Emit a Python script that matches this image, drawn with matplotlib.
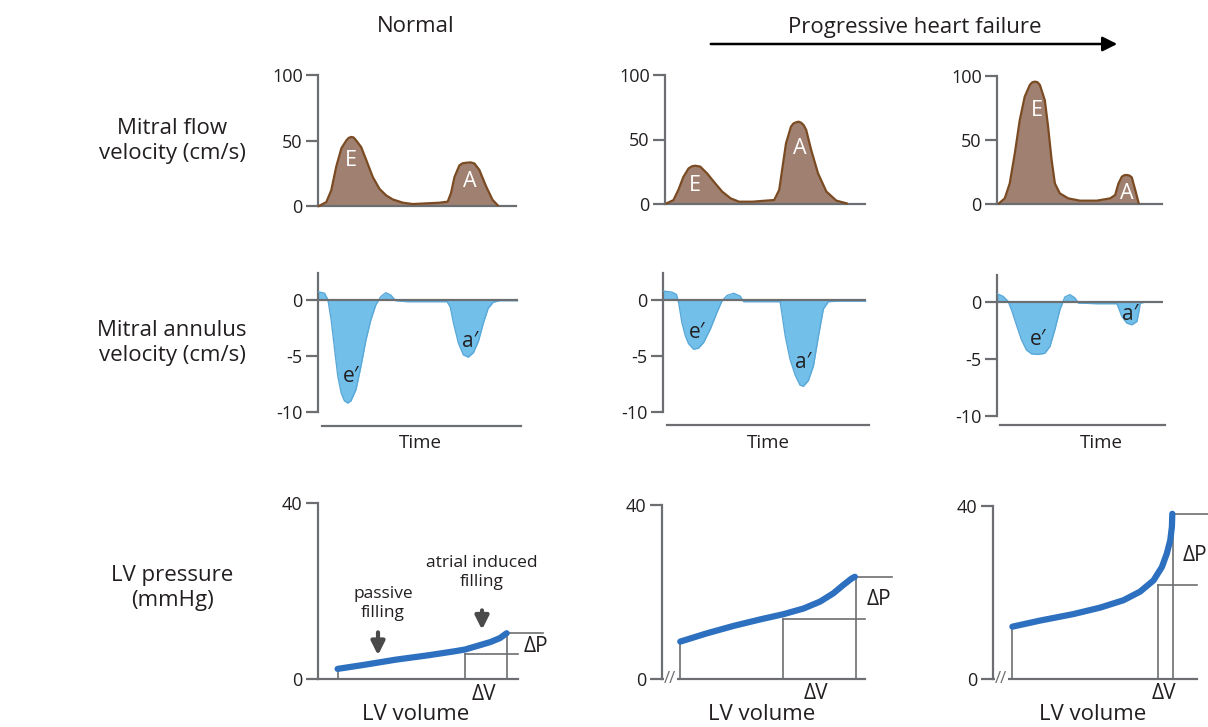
import matplotlib
matplotlib.use('Agg')
import matplotlib.pyplot as plt
from matplotlib.patches import FancyArrowPatch

plt.rcParams['font.family'] = ['Open Sans', 'DejaVu Sans']

# ---- data (time axis scaled 0..100) ----
# mitral flow velocity (cm/s)
flow_t_1 = [0.5, 4.2, 6.7, 9.2, 11.8, 14.3, 15.5, 16.8, 18.0, 19.3, 21.8, 24.4, 27.7, 31.1, 34.5, 37.8,
            42.9, 47.9, 54.6, 61.3, 65.5, 67.2, 68.9, 71.4, 73.0, 74.8, 77.0, 79.0, 81.5, 84.9, 88.2, 90.8]
flow_v_1 = [0, 3, 12, 30, 44, 50, 52, 52.7, 52.3, 50, 45, 35, 22, 13, 8, 5,
            2.5, 1.5, 2, 2.5, 3.3, 10, 22, 31, 32.6, 33, 33.3, 32.5, 27.5, 15, 4.6, 0.5]
flow_t_2 = [0.8, 4.2, 6.7, 9.2, 11.8, 13.4, 15.1, 17.6, 21.0, 24.4, 28.6, 32.8, 37.0, 43.7, 50.4,
            54.6, 57.1, 58.8, 60.5, 63.0, 64.2, 65.5, 66.8, 68.1, 69.4, 70.6, 73.1, 76.5, 80.7, 85.7, 90.8]
flow_v_2 = [0.5, 3, 11, 21, 27.6, 29.2, 29.7, 29, 23.8, 17.3, 9.6, 4.4, 1.8, 1.8, 2.6,
            3.1, 10.9, 29, 47, 60, 62.4, 63.3, 63.8, 63, 61, 57.4, 41.9, 23.8, 9.6, 2.6, 0.5]
flow_t_3 = [1.2, 4.7, 7.7, 10.8, 13.8, 16.8, 19.9, 21.3, 22.9, 24.5, 26.0, 29.0, 31.0, 33.1, 35.1, 38.1,
            43.2, 50.3, 60.4, 68.6, 71.6, 73.6, 75.7, 77.2, 78.7, 80.3, 81.7, 83.8, 85.8]
flow_v_3 = [0.5, 4.4, 16, 39.6, 65.6, 83.9, 93, 95, 95.6, 95.2, 93, 81, 60, 34.4, 16, 8.3,
            4.4, 2.6, 2.6, 4.4, 7, 16, 21.4, 22.5, 22.7, 22.2, 20.8, 10.9, 1]

# mitral annulus velocity (cm/s)
ann_t_1 = [0, 3.3, 5.0, 6.6, 8.3, 9.9, 11.6, 13.2, 14.9, 16.5, 19.0, 21.5, 24.0, 26.4, 28.9,
           31.4, 33.9, 36.4, 38.8, 44.6, 54.5, 64.5, 66.1, 67.8, 70.2, 72.7, 75.2, 77.7,
           80.2, 82.6, 85.1, 87.6, 90.9, 100]
ann_v_1 = [0.74, 0.6, 0, -1.8, -4.4, -6.8, -8.3, -9.0, -9.2, -9.0, -8.0, -5.9, -3.55, -1.8, -0.44,
           0.3, 0.65, 0.44, -0.06, -0.15, -0.15, -0.15, -0.6, -2.1, -3.85, -4.9, -5.1, -4.7,
           -3.7, -2.1, -0.74, -0.2, -0.06, -0.06]
ann_t_2 = [0, 4.4, 6.6, 7.7, 9.3, 11.0, 12.6, 15.1, 17.5, 20.0, 23.3, 26.6, 29.0, 31.5, 34.8,
           38.0, 39.7, 47.9, 57.7, 58.5, 60.2, 62.6, 65.1, 67.5, 69.2, 71.6, 74.1, 76.6,
           79.0, 81.5, 87.0, 100]
ann_v_2 = [0.8, 0.7, 0.5, -0.24, -2.0, -3.2, -3.9, -4.4, -4.3, -3.8, -2.6, -1.1, -0.1, 0.4, 0.6,
           0.35, -0.15, -0.15, -0.15, -1.1, -3.2, -5.3, -6.7, -7.6, -7.7, -7.2, -5.9, -3.2,
           -0.8, -0.15, -0.1, -0.1]
ann_t_3 = [0, 3.6, 6.7, 8.7, 11.7, 14.7, 17.7, 20.8, 24.8, 28.8, 31.9, 34.9, 37.9, 40.9, 43.9,
           47.0, 49.0, 60.0, 72.2, 73.2, 75.2, 78.2, 81.3, 84.3, 85.7, 86.3, 90.3, 100]
ann_v_3 = [0.73, 0.5, 0.06, -0.67, -2.0, -3.3, -4.2, -4.55, -4.6, -4.5, -3.9, -2.4, -0.67, 0.44, 0.65,
           0.35, -0.09, -0.15, -0.15, -0.5, -1.26, -1.85, -2.0, -1.7, -0.67, -0.09, 0, 0]

# LV pressure (mmHg) vs LV volume
pv_t_1 = [9.8, 22.8, 39.0, 55.3, 68.3, 73.5, 78.0, 86.2, 91.0, 94.3]
pv_p_1 = [2.3, 3.2, 4.4, 5.4, 6.3, 6.7, 7.3, 8.4, 9.3, 10.4]
pv_t_2 = [9.0, 22.1, 35.2, 48.4, 59.8, 69.7, 77.9, 84.4, 89.3, 93.4, 95.0]
pv_p_2 = [8.6, 10.5, 12.2, 13.7, 14.9, 16.2, 17.8, 19.7, 21.6, 23.1, 23.5]
pv_t_3 = [9.5, 23.0, 39.3, 52.5, 63.9, 72.1, 78.7, 82.8, 85.2, 86.9, 87.7, 87.9]
pv_p_3 = [12.1, 13.5, 15.0, 16.5, 18.2, 20.2, 22.8, 25.9, 29.0, 32.1, 35.2, 38.2]
# delta V start (volume, pressure) and end for each column
dv_start = [(73.5, 5.6), (59.5, 13.7), (81.1, 21.7)]
dv_end = [(94.5, 10.4), (95.4, 23.4), (88.0, 38.2)]

flow_labels = [[('E', 16.8, 35), ('A', 76.5, 18.6)],
               [('E', 15.1, 14.7), ('A', 67.2, 43)],
               [('E', 23.9, 73.4), ('A', 78.7, 8.3)]]
ann_labels = [[('e\u2032', 16.5, -6.8), ('a\u2032', 76.0, -3.7)],
              [('e\u2032', 16.7, -2.9), ('a\u2032', 69.2, -5.6)],
              [('e\u2032', 24.8, -3.3), ('a\u2032', 80.0, -1.1)]]

W, H = 1208, 727
GRAY = '#6d6e71'
TXT = '#231f20'
fig = plt.figure(figsize=(W / 100, H / 100), dpi=100)


def make_ax(x0, x1, ybot, ytop, ylim, ticks, ticklabels):
    ax = fig.add_axes([x0 / W, 1 - ybot / H, (x1 - x0) / W, (ybot - ytop) / H])
    ax.set_xlim(0, 100)
    ax.set_ylim(*ylim)
    ax.patch.set_alpha(0)
    for s in ['top', 'right']:
        ax.spines[s].set_visible(False)
    for s in ['left', 'bottom']:
        ax.spines[s].set_color(GRAY)
        ax.spines[s].set_linewidth(1.6)
    ax.set_xticks([])
    ax.set_yticks(ticks)
    ax.set_yticklabels(ticklabels)
    ax.tick_params(axis='y', length=9, width=1.6, color=GRAY, labelsize=13,
                   labelcolor=TXT, pad=2)
    return ax


# ---- row 1: mitral flow ----
row1 = [(318, 516, 206, 75), (665, 865, 204, 75), (997, 1162, 204, 76)]
flows = [(flow_t_1, flow_v_1), (flow_t_2, flow_v_2), (flow_t_3, flow_v_3)]
for i, (x0, x1, yb, yt) in enumerate(row1):
    ax = make_ax(x0, x1, yb, yt, (0, 100), [0, 50, 100], ['0', '50', '100'])
    t, v = flows[i]
    ax.fill_between(t, v, 0, color='#a08070', lw=0, zorder=2)
    ax.plot(t, v, color='#7a4a22', lw=1.6, solid_joinstyle='round', zorder=3, clip_on=False)
    for s, lx, ly in flow_labels[i]:
        ax.text(lx, ly, s, color='white', fontsize=15.5, ha='center', va='center', zorder=4)

# ---- row 2: mitral annulus ----
row2 = [(318, 518, 412, 300), (663, 866, 412, 300), (997, 1163, 416, 302)]
anns = [(ann_t_1, ann_v_1), (ann_t_2, ann_v_2), (ann_t_3, ann_v_3)]
time_x = [51, 52, 63]
time_line_y = [-11.25, -11.2, -10.8]
time_text_y = [-12.8, -12.8, -12.4]
for i, (x0, x1, yb, y0) in enumerate(row2):
    unit = (yb - y0) / 10
    ytop = y0 - 2.4 * unit
    ax = make_ax(x0, x1, yb, ytop, (-10, 2.4), [-10, -5, 0], ['-10', '-5', '0'])
    ax.spines['bottom'].set_visible(False)
    t, v = anns[i]
    ax.fill_between(t, v, 0, color='#72bfea', lw=0, zorder=2)
    ax.plot(t, v, color='#5aa8d8', lw=1.0, zorder=3)
    ax.axhline(0, color=GRAY, lw=1.6, zorder=4)
    for s, lx, ly in ann_labels[i]:
        ax.text(lx, ly, s, color=TXT, fontsize=15, ha='center', va='center', zorder=5)
    ax.plot([2, 101.5], [time_line_y[i]] * 2, color=GRAY, lw=1.6, clip_on=False)
    ax.text(time_x[i], time_text_y[i], 'Time', color=TXT, fontsize=13.5, ha='center', va='center')

# ---- row 3: LV pressure ----
row3 = [(318, 518, 679, 503), (662, 865, 679, 505), (993, 1197, 679, 506)]
pvs = [(pv_t_1, pv_p_1), (pv_t_2, pv_p_2), (pv_t_3, pv_p_3)]
dp_pos = [(109, 7.4), (107, 18.2), (99, 28.6)]
dv_pos = [(83, -3.6), (76, -3.3), (83.6, -3.3)]
for i, (x0, x1, yb, yt) in enumerate(row3):
    ax = make_ax(x0, x1, yb, yt, (0, 40), [0, 40], ['0', '40'])
    t, p = pvs[i]
    (sx, sy), (ex, ey) = dv_start[i], dv_end[i]
    thin = dict(color=GRAY, lw=1.2, zorder=2, clip_on=False)
    ax.plot([t[0], t[0]], [0, p[0]], **thin)
    ax.plot([sx, sx], [0, sy], **thin)
    ax.plot([sx, 100], [sy, sy], **thin)
    ax.plot([ex, ex], [0, ey], **thin)
    ax.plot([ex, ex + 18], [ey, ey], **thin)
    ax.plot(t, p, color='#2d70c0', lw=4.5, solid_capstyle='round', solid_joinstyle='round',
            zorder=3, clip_on=False)
    ax.text(*dp_pos[i], '\u0394P', color=TXT, fontsize=15, ha='center', va='center')
    ax.text(*dv_pos[i], '\u0394V', color=TXT, fontsize=15, ha='center', va='center')
    ax.text(49, -8.1, 'LV volume', color=TXT, fontsize=16, ha='center', va='center')
    if i > 0:
        ax.text(4, 0, '//', color=GRAY, fontsize=12, ha='center', va='center', zorder=5,
                bbox=dict(facecolor='white', edgecolor='none', pad=0.2))
    if i == 0:
        arr = dict(arrowstyle='-|>', color='#4a4a4a', lw=3, mutation_scale=20,
                   shrinkA=0, shrinkB=0)
        ax.annotate('', xy=(30, 5.4), xytext=(30, 10.6), arrowprops=arr)
        ax.annotate('', xy=(82, 11.2), xytext=(82, 15.6), arrowprops=arr)
        ax.text(32.5, 17.2, 'passive\nfilling', color=TXT, fontsize=12.5, ha='center',
                va='center', linespacing=1.25)
        ax.text(82, 24.2, 'atrial induced\nfilling', color=TXT, fontsize=12.5, ha='center',
                va='center', linespacing=1.25)

# ---- row and column titles ----
fig.text(172 / W, 1 - 141 / H, 'Mitral flow\nvelocity (cm/s)', ha='center', va='center',
         fontsize=16, color=TXT, linespacing=1.3)
fig.text(172 / W, 1 - 343 / H, 'Mitral annulus\nvelocity (cm/s)', ha='center', va='center',
         fontsize=16, color=TXT, linespacing=1.3)
fig.text(172 / W, 1 - 588 / H, 'LV pressure\n(mmHg)', ha='center', va='center',
         fontsize=16, color=TXT, linespacing=1.3)
fig.text(416 / W, 1 - 27 / H, 'Normal', ha='center', va='center', fontsize=16, color=TXT)
fig.text(915 / W, 1 - 27 / H, 'Progressive heart failure', ha='center', va='center',
         fontsize=16, color=TXT)
fig.add_artist(FancyArrowPatch((708 / W, 1 - 44 / H), (1120 / W, 1 - 44 / H),
                               transform=fig.transFigure, arrowstyle='-|>',
                               mutation_scale=22, lw=1.8, color='black'))

fig.savefig('out.png', dpi=100)
